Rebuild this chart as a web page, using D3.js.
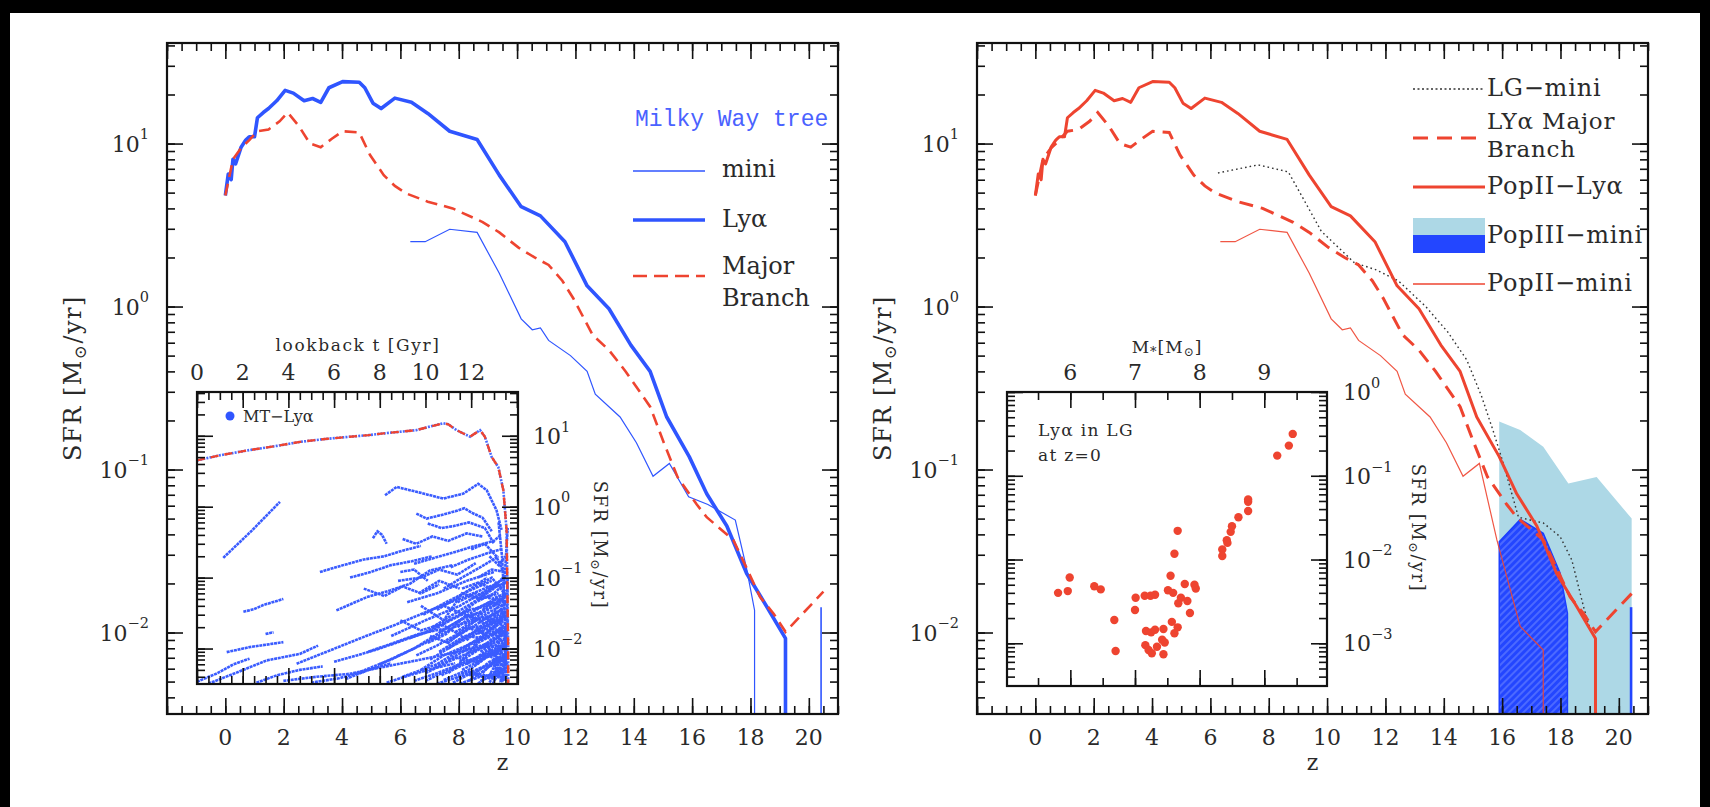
<!DOCTYPE html>
<html><head><meta charset="utf-8">
<script src="https://cdn.jsdelivr.net/npm/d3@7"></script>
<style>
body{margin:0;background:#000;}
svg{display:block;}
text{font-family:"DejaVu Serif",serif;fill:#2a2a2a;}
</style></head><body>
<svg id="c" width="1710" height="807"></svg>
<script>
// ---------------- DATA ----------------
// Main panels: redshift z vs SFR [Msun/yr]; 0 = drops off the bottom of the axis
const zLya   = [0,0.1,0.2,0.26,0.35,0.54,0.7,0.82,1.0,1.1,1.3,1.48,1.76,2.05,2.33,2.7,2.99,3.27,3.55,4.02,4.59,4.78,5.06,5.34,5.81,6.38,6.94,7.69,8.63,9.39,10.14,10.8,11.64,12.4,13.15,13.9,14.56,15.13,15.9,16.5,17.19,17.87,18.56,19.2,19.2];
const sfrLya = [4.8,6.5,6.0,8.0,7.5,9.5,10.5,11,11,14.4,15.5,16.4,18.3,21.2,20.4,18.3,18.9,17.9,22,24,23.8,22,17.7,16.4,19,17.9,15.3,11.9,10.6,6.4,4.1,3.6,2.5,1.34,0.97,0.58,0.40,0.21,0.12,0.071,0.045,0.023,0.0144,0.0092,0];

const zMajor   = [0,0.26,0.54,0.82,1.1,1.48,1.86,2.14,2.52,2.9,3.27,3.65,4.02,4.59,4.96,5.43,5.81,6.19,6.94,7.79,8.82,9.39,10.05,10.6,11.08,11.55,11.93,12.59,13.15,13.72,14.56,15.03,15.5,16.16,16.5,17.41,17.86,18.33,18.8,19.2,20.5];
const sfrMajor = [4.8,8,9.4,10.5,11.9,12.2,13.7,15.5,12.8,10,9.5,10.7,11.9,11.7,8.5,6.4,5.5,4.95,4.4,4.0,3.3,2.85,2.3,2.0,1.8,1.44,1.12,0.67,0.54,0.40,0.243,0.146,0.09,0.061,0.051,0.037,0.025,0.0165,0.013,0.0101,0.0178];

const zMini   = [6.34,6.85,7.69,8.63,9.39,10.14,10.52,10.8,11.08,11.83,12.4,12.68,13.53,14.09,14.66,15.22,15.88,16.54,17.48,17.86,18.14,18.14];
const sfrMini = [2.5,2.5,2.98,2.85,1.6,0.84,0.72,0.74,0.62,0.50,0.40,0.29,0.21,0.146,0.091,0.109,0.068,0.061,0.049,0.025,0.0137,0];
const zMiniLate   = [20.42,20.42];
const sfrMiniLate = [0,0.0143];

const zPop2Mini   = [6.34,6.85,7.69,8.63,9.39,10.14,10.52,10.8,11.08,11.83,12.4,12.68,13.53,14.09,14.66,15.22,15.82,16.62,17.41,17.41];
const sfrPop2Mini = [2.5,2.5,2.98,2.85,1.6,0.84,0.72,0.74,0.62,0.50,0.40,0.29,0.21,0.146,0.091,0.109,0.037,0.0109,0.0078,0];

const zLG   = [6.26,6.79,7.64,8.67,9.24,9.8,10.18,10.93,11.68,12.44,13.38,14.13,14.79,15.30,15.70,16.04,16.56,16.96,17.41,17.99,18.39,18.79,19.02,19.19,19.19];
const sfrLG = [6.6,6.9,7.4,6.7,4.4,2.9,2.5,1.86,1.68,1.44,1.0,0.70,0.47,0.28,0.171,0.109,0.051,0.049,0.047,0.0387,0.0278,0.0144,0.0104,0.0095,0];

const zPop3All   = [15.9,16.62,17.41,18.27,19.24,20.44];
const sfrPop3All = [0.197,0.175,0.138,0.082,0.090,0.050];
const zPop3Lya   = [15.9,16.62,17.41,17.99,18.24];
const sfrPop3Lya = [0.036,0.0495,0.0406,0.0231,0.0131];

// Left inset: lookback time [Gyr] vs SFR
const tMT   = [0,1,2.32,3.5,4.51,5.6,6.7,7.5,8.16,9.03,9.6,10.05,10.78,11.0,11.36,11.95,12.39,12.6,12.9,13.19,13.41,13.55,13.62,13.62];
const sfrMT = [4.5,5.3,6.3,7.2,8.2,9.0,9.7,10.2,10.8,11.5,12,13.1,15,14.5,12,9.7,12,9.7,5.0,3.6,1.7,0.47,0.0105,0];
const mtTracks = [
 [[1.15,0.19],[2.4,0.46],[3.63,1.17]],
 [[2.03,0.033],[2.5,0.036],[2.9,0.041],[3.78,0.05]],
 [[3.0,0.016],[3.35,0.017]],
 [[0.0,0.0034],[0.9,0.0045],[1.6,0.006],[2.3,0.0072]],
 [[0.5,0.0032],[1.6,0.0044],[3.05,0.0068],[4.5,0.0084],[5.3,0.011]],
 [[1.3,0.0089],[2.32,0.0105],[3.78,0.0123]],
 [[3.78,0.0035],[5.23,0.004],[6.69,0.0044],[8.16,0.0055],[9.61,0.0068],[11.07,0.0085],[12.53,0.0105],[13.5,0.011]],
 [[4.36,0.0061],[5.82,0.0094],[7.28,0.0145],[8.74,0.022],[10.2,0.0345],[11.66,0.053],[13.11,0.082]],
 [[6.1,0.0345],[7.43,0.053],[8.45,0.066],[9.32,0.082],[10.2,0.126],[11.2,0.15]],
 [[5.38,0.12],[6.4,0.15],[7.3,0.18],[8.2,0.2],[9.0,0.24],[9.8,0.28]],
 [[6.7,0.1],[7.6,0.12],[8.5,0.15],[9.4,0.17],[10.3,0.2]],
 [[7.7,0.36],[7.9,0.45],[8.1,0.4],[8.3,0.3]],
 [[8.23,1.45],[8.74,1.9],[9.61,1.62],[10.78,1.3],[11.66,1.53],[12.31,2.1],[12.68,1.71],[13.11,0.89],[13.33,0.47]],
 [[9.6,0.8],[10.05,0.68],[10.6,0.75],[11.3,0.86],[11.7,0.95],[12.1,0.8],[12.5,0.7],[12.9,0.45]],
 [[10.1,0.58],[10.7,0.5],[11.2,0.53],[11.9,0.6],[12.6,0.5],[13.0,0.3]],
 [[9.5,0.157],[10.4,0.19],[11.3,0.23],[12.0,0.27],[13.0,0.33],[13.3,0.4]],
 [[8.0,0.006],[9.5,0.01],[11,0.02],[12.5,0.04],[13.5,0.06]],
 [[7.0,0.0045],[8.5,0.007],[10,0.012],[11.5,0.022],[13.0,0.03]],
 [[9.0,0.004],[10.5,0.006],[12,0.012],[13.4,0.02]],
 [[8.5,0.015],[10,0.025],[11.5,0.04],[12.8,0.07],[13.5,0.1]],
 [[9.2,0.045],[10.5,0.06],[11.8,0.09],[13,0.12]],
 [[10,0.0035],[11,0.005],[12,0.007],[13,0.009],[13.6,0.012]],
 [[10.5,0.0032],[11.5,0.004],[12.5,0.0055],[13.5,0.006]],
 [[11,0.01],[12,0.016],[13,0.025],[13.6,0.03]],
 [[11.5,0.03],[12.2,0.045],[13,0.06],[13.6,0.09]],
 [[10.8,0.07],[11.6,0.1],[12.4,0.14],[13.2,0.2]],
 [[12,0.004],[12.8,0.0065],[13.6,0.008]],
 [[12.2,0.02],[12.9,0.013],[13.5,0.017]],
 [[11.8,0.006],[12.6,0.009],[13.4,0.013]],
 [[12.5,0.035],[13.1,0.05],[13.6,0.045]],
 [[12.8,0.2],[13.2,0.15],[13.5,0.2]],
 [[13.2,0.6],[13.35,0.2],[13.45,0.05],[13.5,0.01],[13.55,0.004]],
 [[13.0,0.0035],[13.3,0.02],[13.5,0.15],[13.6,0.5]],
 [[8.8,0.09],[9.8,0.1],[10.6,0.13],[11.4,0.11],[12.2,0.16]],
 [[9.0,0.35],[9.6,0.3],[10.3,0.38],[11,0.33],[11.8,0.42],[12.5,0.38]],
 [[7.3,0.07],[8.2,0.055],[9.0,0.075],[9.8,0.06],[10.6,0.08]],
 [[10.2,0.015],[11.0,0.012],[11.8,0.02],[12.6,0.016],[13.3,0.025]],
 [[6.0,0.0065],[7.0,0.008],[8.0,0.01],[9.0,0.013],[10.0,0.017],[11,0.025]],
 [[2.6,0.0033],[3.5,0.0042],[4.5,0.005],[5.5,0.0056]],
 [[11.2,0.0033],[12.0,0.0045],[12.8,0.0038],[13.5,0.005]],
 [[12.4,0.08],[12.9,0.1],[13.3,0.07],[13.6,0.05]],
 [[12.0,0.25],[12.6,0.3],[13.1,0.2],[13.4,0.12]],
 [[11.5,0.0065],[12.3,0.012],[13.0,0.016],[13.6,0.02]],
 [[10.8,0.04],[11.7,0.03],[12.5,0.025],[13.3,0.035]],
 [[12.8,0.0033],[13.2,0.0055],[13.55,0.0035]],
 [[13.1,0.005],[13.3,0.009],[13.55,0.006]],
 [[12.6,0.012],[13.0,0.008],[13.4,0.01],[13.6,0.014]],
 [[9.8,0.04],[10.8,0.025],[11.6,0.06],[12.4,0.05],[13.2,0.06]],
 [[8.9,0.12],[9.5,0.13],[10.1,0.09]],
 [[9.5,0.0035],[10.5,0.0045],[11.5,0.006],[12.5,0.008],[13.5,0.01]],
 [[9.8,0.005],[10.8,0.008],[11.8,0.011],[12.8,0.015],[13.6,0.02]],
 [[10.2,0.007],[11.2,0.011],[12.2,0.016],[13.2,0.022]],
 [[10.6,0.009],[11.4,0.013],[12.4,0.019],[13.4,0.027]],
 [[10.9,0.012],[11.8,0.018],[12.7,0.027],[13.5,0.038]],
 [[11.3,0.017],[12.1,0.024],[12.9,0.034],[13.6,0.045]],
 [[11.7,0.022],[12.4,0.03],[13.1,0.042],[13.6,0.06]],
 [[12.0,0.05],[12.7,0.065],[13.3,0.08]],
 [[10.3,0.02],[11.2,0.03],[12.1,0.045],[13.0,0.07]],
 [[9.9,0.03],[10.9,0.045],[11.9,0.065],[12.9,0.09]],
 [[11.9,0.0035],[12.6,0.005],[13.3,0.0075]],
 [[12.3,0.0032],[12.9,0.0045],[13.6,0.0055]],
 [[12.6,0.005],[13.1,0.007],[13.6,0.009]],
 [[12.9,0.006],[13.3,0.011],[13.6,0.016]],
 [[12.7,0.024],[13.2,0.03],[13.6,0.035]],
 [[13.0,0.04],[13.4,0.055],[13.6,0.07]],
 [[12.4,0.009],[13.0,0.012],[13.5,0.014]],
 [[12.1,0.011],[12.8,0.018],[13.4,0.024]],
 [[11.6,0.009],[12.3,0.014],[13.1,0.02]],
 [[11.0,0.007],[11.9,0.01],[12.9,0.012],[13.5,0.018]],
 [[10.7,0.0042],[11.6,0.0058],[12.5,0.0075],[13.4,0.009]],
 [[10.0,0.0045],[11.0,0.0065],[12.0,0.009],[13.0,0.012]],
 [[13.2,0.004],[13.4,0.008],[13.6,0.0045]],
 [[13.35,0.003],[13.5,0.012],[13.6,0.025]],
 [[11.4,0.045],[12.2,0.06],[12.9,0.05],[13.5,0.06]],
 [[10.5,0.035],[11.3,0.05],[12.0,0.07],[12.7,0.1]],
 [[12.3,0.1],[12.9,0.13],[13.5,0.12]],
 [[11.1,0.14],[11.9,0.18],[12.7,0.22],[13.3,0.25]],
 [[9.7,0.06],[10.6,0.09],[11.5,0.07]],
 [[8.9,0.025],[9.8,0.018],[10.7,0.022],[11.6,0.015]],
 [[7.5,0.009],[8.6,0.012],[9.7,0.016],[10.8,0.019]],
 [[6.5,0.0037],[7.5,0.005],[8.5,0.0062]],
 [[5.0,0.0033],[6.2,0.0038],[7.4,0.0048]],
 [[8.3,0.0033],[9.3,0.0042],[10.3,0.0052],[11.3,0.0062]],
 [[13.45,0.0035],[13.55,0.02],[13.6,0.1]],
 [[12.95,0.0032],[13.2,0.0045],[13.4,0.0035]],
 [[11.4,0.02],[12.0,0.028],[12.6,0.022],[13.2,0.04]],
 [[10.1,0.012],[10.9,0.016],[11.7,0.028],[12.5,0.032]],
 [[11.0,0.0045],[11.8,0.0075],[12.6,0.011],[13.4,0.016]],
 [[11.3,0.0038],[12.1,0.0055],[12.9,0.0085],[13.6,0.011]],
 [[11.6,0.005],[12.4,0.0068],[13.2,0.0095],[13.6,0.013]],
 [[11.9,0.0042],[12.7,0.0058],[13.4,0.0068]],
 [[12.2,0.006],[12.8,0.0085],[13.5,0.0115]],
 [[12.5,0.0045],[13.0,0.0068],[13.6,0.0075]],
 [[12.7,0.0085],[13.2,0.0062],[13.6,0.0095]],
 [[12.0,0.0085],[12.7,0.012],[13.3,0.017],[13.6,0.022]],
 [[11.2,0.014],[12.0,0.02],[12.8,0.021],[13.5,0.028]],
 [[11.8,0.013],[12.5,0.022],[13.2,0.028],[13.6,0.033]],
 [[12.3,0.016],[12.9,0.023],[13.5,0.03]],
 [[12.6,0.028],[13.1,0.022],[13.6,0.027]],
 [[11.0,0.025],[11.9,0.035],[12.7,0.04],[13.4,0.05]],
 [[12.1,0.035],[12.8,0.045],[13.4,0.04]],
 [[12.9,0.015],[13.3,0.019],[13.6,0.012]],
 [[13.0,0.028],[13.3,0.036],[13.6,0.025]],
 [[10.4,0.0055],[11.3,0.0075],[12.2,0.0065],[13.1,0.0085]],
 [[10.8,0.0036],[11.7,0.0048],[12.6,0.0042],[13.5,0.0038]],
 [[12.4,0.0035],[13.0,0.0042],[13.5,0.005]],
 [[13.1,0.012],[13.4,0.016],[13.6,0.019]],
 [[12.3,0.05],[12.9,0.07],[13.5,0.085]],
 [[11.6,0.07],[12.3,0.085],[12.9,0.07],[13.4,0.1]],
 [[9.6,0.008],[10.5,0.011],[11.4,0.016],[12.3,0.026]],
 [[9.3,0.014],[10.3,0.018],[11.2,0.026],[12.0,0.035]],
 [[10.6,0.017],[11.5,0.025],[12.4,0.033],[13.3,0.045]],
 [[13.25,0.003],[13.45,0.0065],[13.6,0.0085]],
 [[12.85,0.0045],[13.25,0.0075],[13.6,0.006]],
 [[11.5,0.0032],[12.4,0.004],[13.3,0.0045]],
 [[12.15,0.007],[12.9,0.0095],[13.6,0.012]],
 [[10.9,0.01],[11.7,0.015],[12.6,0.014],[13.5,0.022]]
];

// Right inset: log stellar mass vs SFR of Ly-alpha haloes in the Local Group at z=0
const lgMass = [5.81,5.96,5.99,6.37,6.47,6.68,6.70,7.01,7.00,7.15,7.24,7.31,7.17,7.25,7.31,7.44,7.16,7.21,7.26,7.34,7.42,7.46,7.44,7.51,7.59,7.55,7.61,7.66,7.57,7.61,7.66,7.67,7.71,7.77,7.81,7.85,7.92,7.94,8.35,8.35,8.42,8.43,8.48,8.50,8.60,8.75,8.75,8.75,9.20,9.38,9.44];
const lgSFR  = [0.0040,0.0042,0.0061,0.0048,0.0044,0.0019,0.00081,0.0035,0.0025,0.0037,0.0037,0.0038,0.0014,0.00135,0.00145,0.00148,0.00095,0.00083,0.00076,0.00091,0.0011,0.00102,0.00074,0.0043,0.0040,0.0064,0.0117,0.022,0.0018,0.00132,0.00155,0.0030,0.0035,0.0051,0.0032,0.0023,0.0050,0.0045,0.0132,0.011,0.017,0.0158,0.0214,0.025,0.032,0.038,0.049,0.052,0.174,0.229,0.316];

// Tick labels
const zTickLabels     = [0,2,4,6,8,10,12,14,16,18,20];
const sfrDecades      = [-2,-1,0,1];
const lookbackLabels  = [0,2,4,6,8,10,12];
const massLabels      = [6,7,8,9];
const insetLGDecades  = [0,-1,-2,-3];

// ---------------- DRAWING ----------------
const svg = d3.select('#c');
const BLUE = '#2f55ff', RED = '#ee4430', DARKBLUE = '#2346ff', LIGHTBLUE = '#add8e6', INK = '#111';
svg.append('rect').attr('width',1710).attr('height',807).attr('fill','#000');
svg.append('rect').attr('x',10).attr('y',13).attr('width',1690).attr('height',794).attr('fill','#fff');

const defs = svg.append('defs');
const pat = defs.append('pattern').attr('id','hatch').attr('width',5).attr('height',5)
  .attr('patternUnits','userSpaceOnUse').attr('patternTransform','rotate(45)');
pat.append('rect').attr('width',5).attr('height',5).attr('fill',DARKBLUE);
pat.append('line').attr('x1',1).attr('y1',0).attr('x2',1).attr('y2',5).attr('stroke','#7f95ff').attr('stroke-width',0.9);

const zip = (a,b) => a.map((v,i)=>[v,b[i]]);
const logRange = (lo,hi) => { const out=[]; for(let d=Math.floor(lo)-1; d<=Math.ceil(hi); d++) for(let k=1;k<10;k++){const v=k*Math.pow(10,d); if(Math.log10(v)>=lo-1e-9 && Math.log10(v)<=hi+1e-9) out.push(v);} return out; };
const linRange = (a,b,s) => d3.range(Math.round(a/s)*s, b+1e-9, s).filter(v=>v>=a-1e-9);

function tickSet(g, scale, orient, pos, values, len){
  const ax = {bottom:d3.axisBottom, top:d3.axisTop, left:d3.axisLeft, right:d3.axisRight}[orient](scale)
     .tickValues(values).tickSize(-len).tickFormat('');
  const tr = (orient==='bottom'||orient==='top') ? `translate(0,${pos})` : `translate(${pos},0)`;
  const a = g.append('g').attr('transform',tr).call(ax);
  a.select('.domain').remove();
  a.selectAll('line').attr('stroke',INK).attr('stroke-width',1.6);
}
function frame(g, x, y, xMaj, xMin, yMaj, yMin, majLen, minLen){
  const [x0,x1] = x.range(), [y0,y1] = [y.range()[1], y.range()[0]];
  tickSet(g,x,'bottom',y1,xMin,minLen); tickSet(g,x,'bottom',y1,xMaj,majLen);
  tickSet(g,x,'top',y0,xMin,minLen);    tickSet(g,x,'top',y0,xMaj,majLen);
  tickSet(g,y,'left',x0,yMin,minLen);   tickSet(g,y,'left',x0,yMaj,majLen);
  tickSet(g,y,'right',x1,yMin,minLen);  tickSet(g,y,'right',x1,yMaj,majLen);
  g.append('rect').attr('x',x0).attr('y',y0).attr('width',x1-x0).attr('height',y1-y0)
    .attr('fill','none').attr('stroke',INK).attr('stroke-width',2.2);
}
function pow10(g, x, y, e, anchor, size){
  const t = g.append('text').attr('x',x).attr('y',y).attr('text-anchor',anchor)
    .attr('font-size',size).attr('dominant-baseline','central');
  t.append('tspan').text('10');
  t.append('tspan').attr('dy',-size*0.42).attr('font-size',size*0.66).text(e<0 ? '\u2212'+(-e) : String(e));
}
function sfrLabel(g, x, y, rot, size, ls){
  const t = g.append('text').attr('transform',`translate(${x},${y}) rotate(${rot})`)
    .attr('text-anchor','middle').attr('dominant-baseline','central').attr('font-size',size)
    .attr('letter-spacing',ls);
  t.append('tspan').text('SFR [M');
  t.append('tspan').attr('dy',size*0.3).attr('font-size',size*0.7).text('\u2299');
  t.append('tspan').attr('dy',-size*0.3).text('/yr]');
}

const YMIN = Math.pow(10,-2.5), YMAX = Math.pow(10,1.617);
function mainPanel(x0, id){
  const g = svg.append('g');
  const x = d3.scaleLinear().domain([-2,21]).range([x0, x0+671]);
  const y = d3.scaleLog().domain([YMIN, YMAX]).range([714, 43]);
  defs.append('clipPath').attr('id',id).append('rect').attr('x',x0).attr('y',43).attr('width',671).attr('height',671);
  const plot = g.append('g').attr('clip-path',`url(#${id})`);
  const line = d3.line().x(d=>x(d[0])).y(d=>y(Math.max(d[1], YMIN*0.5)));
  return {g, x, y, plot, line};
}
function mainAxes(P){
  const {g,x,y} = P;
  frame(g, x, y, linRange(-2,21,2), linRange(-2,21,0.5), [0.01,0.1,1,10], logRange(-2.5,1.617), 16, 8);
  zTickLabels.forEach(v => g.append('text').attr('x',x(v)).attr('y',737).attr('text-anchor','middle')
     .attr('dominant-baseline','central').attr('font-size',22).text(v));
  sfrDecades.forEach(e => pow10(g, x.range()[0]-18, y(Math.pow(10,e)), e, 'end', 22));
  g.append('text').attr('x',(x.range()[0]+x.range()[1])/2).attr('y',762).attr('text-anchor','middle')
     .attr('dominant-baseline','central').attr('font-size',22).text('z');
  sfrLabel(g, x.range()[0]-94, 378, -90, 24, 1.5);
}

// ---------- LEFT PANEL ----------
const L = mainPanel(167,'clipL');
L.plot.append('path').datum(zip(zMini,sfrMini)).attr('d',L.line).attr('fill','none').attr('stroke',BLUE).attr('stroke-width',1.2);
L.plot.append('path').datum(zip(zMiniLate,sfrMiniLate)).attr('d',L.line).attr('fill','none').attr('stroke',BLUE).attr('stroke-width',1.6);
L.plot.append('path').datum(zip(zLya,sfrLya)).attr('d',L.line).attr('fill','none').attr('stroke',BLUE).attr('stroke-width',3.6).attr('stroke-linejoin','round');
L.plot.append('path').datum(zip(zMajor,sfrMajor)).attr('d',L.line).attr('fill','none').attr('stroke',RED).attr('stroke-width',2.6).attr('stroke-dasharray','12 7');

// legend left
const lgL = L.g.append('g');
lgL.append('text').attr('x',635).attr('y',120).attr('dominant-baseline','central').attr('font-size',23)
  .style('font-family','"Liberation Mono",monospace').style('fill','#4a62ff').text('Milky Way tree');
lgL.append('line').attr('x1',633).attr('x2',705).attr('y1',171).attr('y2',171).attr('stroke',BLUE).attr('stroke-width',1.3);
lgL.append('text').attr('x',722).attr('y',169).attr('dominant-baseline','central').attr('font-size',24).text('mini');
lgL.append('line').attr('x1',633).attr('x2',705).attr('y1',220).attr('y2',220).attr('stroke',BLUE).attr('stroke-width',3.6);
lgL.append('text').attr('x',722).attr('y',219).attr('dominant-baseline','central').attr('font-size',24).text('Ly\u03b1');
lgL.append('line').attr('x1',633).attr('x2',705).attr('y1',276).attr('y2',276).attr('stroke',RED).attr('stroke-width',2.6).attr('stroke-dasharray','14 7');
lgL.append('text').attr('x',722).attr('y',266).attr('dominant-baseline','central').attr('font-size',24).text('Major');
lgL.append('text').attr('x',722).attr('y',298).attr('dominant-baseline','central').attr('font-size',24).text('Branch');

// left inset
(function(){
  const g = L.g.append('g');
  const x = d3.scaleLinear().domain([0,14.05]).range([197,518]);
  const y = d3.scaleLog().domain([YMIN,YMAX]).range([684,392]);
  g.append('rect').attr('x',197).attr('y',392).attr('width',321).attr('height',292).attr('fill','#fff');
  defs.append('clipPath').attr('id','clipLI').append('rect').attr('x',197).attr('y',392).attr('width',321).attr('height',292);
  const p = g.append('g').attr('clip-path','url(#clipLI)');
  const line = d3.line().x(d=>x(d[0])).y(d=>y(Math.max(d[1],YMIN*0.5)));
  p.selectAll('path.trk').data(mtTracks).join('path').attr('class','trk').attr('d',line)
    .attr('fill','none').attr('stroke','#3a5cff').attr('stroke-width',2.6).attr('stroke-dasharray','3 0.7');
  p.append('path').datum(zip(tMT,sfrMT)).attr('d',line).attr('fill','none').attr('stroke','#4a6aff').attr('stroke-width',2.6).attr('stroke-dasharray','2 1.2');
  p.append('path').datum(zip(tMT,sfrMT)).attr('d',line).attr('fill','none').attr('stroke',RED).attr('stroke-width',2.4).attr('stroke-dasharray','8 6');
  frame(g, x, y, linRange(0,14.05,2), linRange(0,14.05,0.5), [0.01,0.1,1,10], logRange(-2.5,1.617), 16, 8);
  lookbackLabels.forEach(v => g.append('text').attr('x',x(v)).attr('y',372).attr('text-anchor','middle')
     .attr('dominant-baseline','central').attr('font-size',22).text(v));
  g.append('text').attr('x',358).attr('y',345).attr('text-anchor','middle').attr('dominant-baseline','central')
     .attr('font-size',17).attr('letter-spacing',1.6).text('lookback t [Gyr]');
  sfrDecades.forEach(e => pow10(g, 533, y(Math.pow(10,e)), e, 'start', 22));
  sfrLabel(g, 601, 545, 90, 18, 1.5);
  g.append('circle').attr('cx',230).attr('cy',416).attr('r',4.5).attr('fill',BLUE);
  g.append('text').attr('x',243).attr('y',416).attr('dominant-baseline','central').attr('font-size',16).text('MT\u2212Ly\u03b1');
})();
mainAxes(L);

// ---------- RIGHT PANEL ----------
const R = mainPanel(977,'clipR');
const areaR = d3.area().x(d=>R.x(d[0])).y0(714).y1(d=>R.y(d[1]));
R.plot.append('path').datum(zip(zPop3All,sfrPop3All)).attr('d',areaR).attr('fill',LIGHTBLUE);
R.plot.append('path').datum(zip(zPop3Lya,sfrPop3Lya)).attr('d',areaR).attr('fill','url(#hatch)').attr('stroke','#1a3cff').attr('stroke-width',1.4);
R.plot.append('path').datum(zip(zMiniLate,sfrMiniLate)).attr('d',R.line).attr('fill','none').attr('stroke',DARKBLUE).attr('stroke-width',2.6);
R.plot.append('path').datum(zip(zLG,sfrLG)).attr('d',R.line).attr('fill','none').attr('stroke','#333').attr('stroke-width',1.4).attr('stroke-dasharray','1.6 3');
R.plot.append('path').datum(zip(zPop2Mini,sfrPop2Mini)).attr('d',R.line).attr('fill','none').attr('stroke',RED).attr('stroke-width',1.2).attr('stroke-opacity',0.9);
R.plot.append('path').datum(zip(zLya,sfrLya)).attr('d',R.line).attr('fill','none').attr('stroke',RED).attr('stroke-width',3).attr('stroke-linejoin','round');
R.plot.append('path').datum(zip(zMajor,sfrMajor)).attr('d',R.line).attr('fill','none').attr('stroke',RED).attr('stroke-width',3).attr('stroke-dasharray','14 8');

// legend right
const lgR = R.g.append('g');
const legR = (y, txt, fs) => lgR.append('text').attr('x',1487).attr('y',y).attr('dominant-baseline','central')
   .attr('font-size',fs||24).attr('letter-spacing',0.8).text(txt);
lgR.append('line').attr('x1',1413).attr('x2',1485).attr('y1',89).attr('y2',89).attr('stroke','#333').attr('stroke-width',1.4).attr('stroke-dasharray','2 2.5');
legR(88,'LG\u2212mini');
lgR.append('line').attr('x1',1413).attr('x2',1485).attr('y1',138).attr('y2',138).attr('stroke',RED).attr('stroke-width',3).attr('stroke-dasharray','15 9');
legR(121,'LY\u03b1 Major',23);
legR(149,'Branch',23);
lgR.append('line').attr('x1',1413).attr('x2',1485).attr('y1',187).attr('y2',187).attr('stroke',RED).attr('stroke-width',3);
legR(186,'PopII\u2212Ly\u03b1');
lgR.append('rect').attr('x',1413).attr('y',218).attr('width',72).attr('height',17).attr('fill',LIGHTBLUE);
lgR.append('rect').attr('x',1413).attr('y',235).attr('width',72).attr('height',18).attr('fill',DARKBLUE);
legR(235,'PopIII\u2212mini');
lgR.append('line').attr('x1',1413).attr('x2',1485).attr('y1',284).attr('y2',284).attr('stroke',RED).attr('stroke-width',1.3);
legR(283,'PopII\u2212mini');

// right inset
(function(){
  const g = R.g.append('g');
  const x = d3.scaleLinear().domain([5.02,9.97]).range([1007,1327]);
  const y = d3.scaleLog().domain([Math.pow(10,-3.51),1]).range([686,392]);
  g.append('rect').attr('x',1007).attr('y',392).attr('width',320).attr('height',294).attr('fill','#fff');
  g.selectAll('circle.pt').data(zip(lgMass,lgSFR)).join('circle').attr('class','pt')
    .attr('cx',d=>x(d[0])).attr('cy',d=>y(d[1])).attr('r',4.2).attr('fill',RED);
  frame(g, x, y, massLabels, linRange(5.5,9.97,0.5), [0.001,0.01,0.1,1], logRange(-3.51,0), 16, 8);
  massLabels.forEach(v => g.append('text').attr('x',x(v)).attr('y',372).attr('text-anchor','middle')
     .attr('dominant-baseline','central').attr('font-size',22).text(v));
  const mt = g.append('text').attr('x',1167).attr('y',347).attr('text-anchor','middle').attr('dominant-baseline','central')
     .attr('font-size',17).attr('letter-spacing',1);
  mt.append('tspan').text('M'); mt.append('tspan').attr('dy',4).attr('font-size',13).text('*');
  mt.append('tspan').attr('dy',-4).text('[M'); mt.append('tspan').attr('dy',5).attr('font-size',12).text('\u2299');
  mt.append('tspan').attr('dy',-5).text(']');
  insetLGDecades.forEach(e => pow10(g, 1343, y(Math.pow(10,e)), e, 'start', 22));
  sfrLabel(g, 1419, 528, 90, 18, 1.5);
  g.append('text').attr('x',1038).attr('y',430).attr('dominant-baseline','central').attr('font-size',17)
     .attr('letter-spacing',1.3).text('Ly\u03b1 in LG');
  g.append('text').attr('x',1038).attr('y',455).attr('dominant-baseline','central').attr('font-size',17)
     .attr('letter-spacing',1.3).text('at z=0');
})();
mainAxes(R);
</script>
</body></html>
